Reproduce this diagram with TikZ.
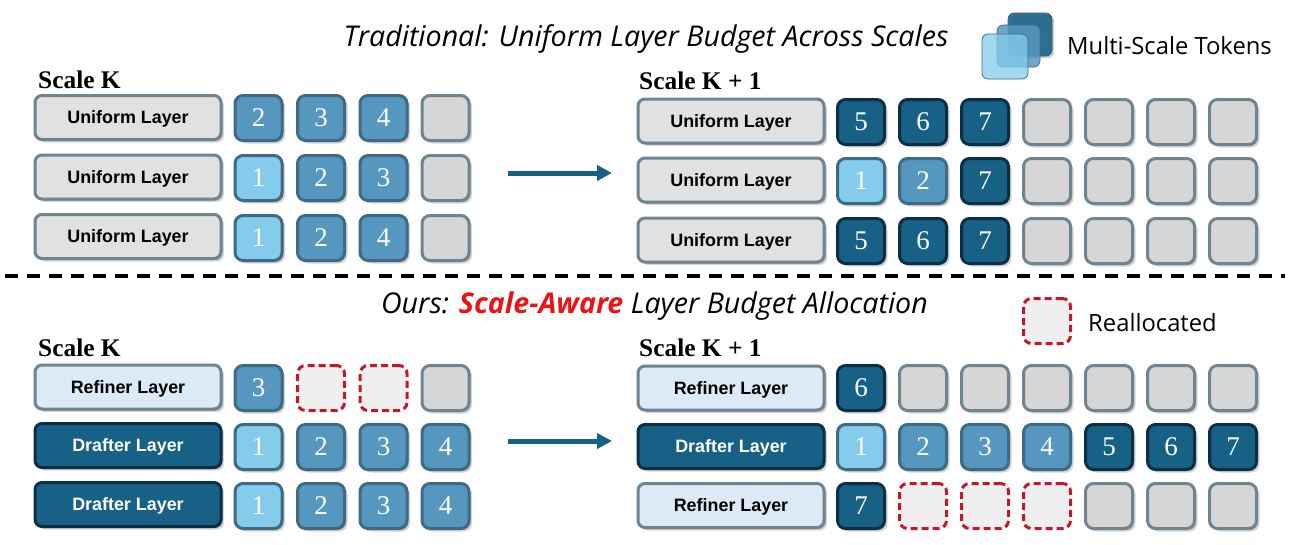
\documentclass[tikz,border=0pt]{standalone}
\usepackage{fontspec}
\setmainfont{Liberation Serif}
\setsansfont{Liberation Sans}
\newfontfamily\titlefont{Open Sans}
\usepackage{xcolor}
\usetikzlibrary{arrows.meta,shadows}
\definecolor{tokenlight}{RGB}{132,203,236}
\definecolor{tokenmid}{RGB}{85,151,190}
\definecolor{tokendark}{RGB}{23,97,135}
\definecolor{edgemid}{RGB}{63,106,133}
\definecolor{edgedark}{RGB}{11,47,69}
\definecolor{edgegrey}{RGB}{111,131,144}
\definecolor{idlegrey}{RGB}{214,214,214}
\definecolor{uniformgrey}{RGB}{225,225,225}
\definecolor{refinerblue}{RGB}{220,233,246}
\definecolor{freegrey}{RGB}{239,239,239}
\definecolor{realred}{RGB}{195,23,42}
\definecolor{awarered}{RGB}{235,20,20}
\tikzset{
  softshadow/.style={drop shadow={shadow xshift=3pt,shadow yshift=-3pt,opacity=.16,fill=black},
    drop shadow={shadow xshift=1.5pt,shadow yshift=-1.5pt,opacity=.22,fill=black}},
  tokenbase/.style={rectangle,rounded corners=8pt,line width=3pt,minimum width=47pt,minimum height=45pt,
    inner sep=0pt,text=white,font=\fontsize{27}{30}\selectfont},
  tokenA/.style={tokenbase,softshadow,draw=edgemid,fill=tokenlight},
  tokenB/.style={tokenbase,softshadow,draw=edgemid,fill=tokenmid},
  tokenC/.style={tokenbase,softshadow,draw=edgedark,fill=tokendark},
  tokenE/.style={tokenbase,softshadow,draw=edgegrey,fill=idlegrey},
  tokenF/.style={tokenbase,draw=realred,fill=freegrey,dash pattern=on 7pt off 4pt},
  layerbase/.style={rectangle,rounded corners=7pt,line width=3pt,minimum width=186pt,minimum height=44pt,
    inner sep=0pt,text height=12.9pt,text depth=0pt,softshadow,font=\sffamily\bfseries\fontsize{17.9}{20}\selectfont},
  layerU/.style={layerbase,draw=edgegrey,fill=uniformgrey,text=black},
  layerR/.style={layerbase,draw=edgegrey,fill=refinerblue,text=black},
  layerD/.style={layerbase,draw=edgedark,fill=tokendark,text=white},
  scalelabel/.style={anchor=west,inner sep=0pt,font=\rmfamily\bfseries\fontsize{25.4}{28}\selectfont},
  headline/.style={inner sep=0pt,font=\titlefont\itshape\fontsize{28.6}{32}\selectfont},
  legendtext/.style={anchor=west,inner sep=0pt,font=\titlefont\fontsize{23.8}{28}\selectfont},
  flowarrow/.style={-{Triangle[length=15pt,width=15pt]},line width=5pt,tokendark},
}
\begin{document}
\begin{tikzpicture}[x=1pt,y=-1pt]
    \useasboundingbox (0,0) rectangle (1292,544);
    % Titles
    \node[headline] (titletop) at (646,38.5) {Traditional: Uniform Layer Budget Across Scales};
    \node[headline] (titlebot) at (654.5,306.5) {Ours: {\bfseries\color{awarered}Scale-Aware} Layer Budget Allocation};
    % Legend stack
    \node[rectangle,rounded corners=6pt,draw=edgedark!80,line width=.6pt,fill=tokendark,fill opacity=.88,
      minimum width=44pt,minimum height=43pt,drop shadow={shadow xshift=2pt,shadow yshift=-2pt,opacity=.2,fill=black}] (stackback) at (1030,34.5) {};
    \node[rectangle,rounded corners=6pt,draw=edgemid,line width=.6pt,fill=tokenmid,fill opacity=.85,
      minimum width=43pt,minimum height=42pt] (stackmid) at (1018.5,46) {};
    \node[rectangle,rounded corners=6pt,draw=edgemid,line width=.8pt,fill=tokenlight,fill opacity=.75,
      minimum width=46pt,minimum height=45pt] (stackfront) at (1005,56.5) {};
    \node[legendtext] (stacktext) at (1067,46) {Multi-Scale Tokens};
    % Legend reallocated
    \node[tokenF] (legendfree) at (1047,321) {};
    \node[legendtext] (freetext) at (1088,323) {Reallocated};
    % Scale labels
    \node[scalelabel] (scaleA) at (38,80) {Scale K};
    \node[scalelabel] (scaleB) at (639,81) {Scale K + 1};
    \node[scalelabel] (scaleC) at (38,348) {Scale K};
    \node[scalelabel] (scaleD) at (639,348) {Scale K + 1};
    % Separator
    \coordinate (sepL) at (5,276);
    \coordinate (sepR) at (1285,276);
    \draw[line width=3.2pt,dash pattern=on 13pt off 9pt] (sepL) -- (sepR);
    % Layer boxes
    \foreach \yy/\kind/\lab/\nm in {117.5/U/Uniform/a,177/U/Uniform/b,236.5/U/Uniform/c,
                                    387/R/Refiner/g,445.5/D/Drafter/h,504.5/D/Drafter/i}
      \node[layer\kind] (layer\nm) at (128,\yy) {\lab{} Layer};
    \foreach \yy/\kind/\lab/\nm in {121/U/Uniform/d,180/U/Uniform/e,240/U/Uniform/f,
                                    388/R/Refiner/j,446.5/D/Drafter/k,505.5/R/Refiner/l}
      \node[layer\kind] (layer\nm) at (731,\yy) {\lab{} Layer};
    % Left token grids
    \foreach \col/\xx in {1/258.5,2/321,3/383.5,4/445.5}{
      \foreach \nm/\yy in {a/118,b/178,c/238,g/388,h/447,i/506}
        \coordinate (slot\nm\col) at (\xx,\yy);
    }
    % Right token grids
    \foreach \col/\xx in {1/861,2/923,3/985,4/1047,5/1109,6/1171,7/1233}{
      \foreach \nm/\yy in {d/122,e/181,f/241,j/388,k/447,l/506}
        \coordinate (slot\nm\col) at (\xx,\yy);
    }
    % Tokens: slot / style / number
    \foreach \slot/\kind/\lab in {a1/B/2,a2/B/3,a3/B/4,a4/E/,
                                  b1/A/1,b2/B/2,b3/B/3,b4/E/,
                                  c1/A/1,c2/B/2,c3/B/4,c4/E/,
                                  g1/B/3,g2/F/,g3/F/,g4/E/,
                                  h1/A/1,h2/B/2,h3/B/3,h4/B/4,
                                  i1/A/1,i2/B/2,i3/B/3,i4/B/4,
                                  d1/C/5,d2/C/6,d3/C/7,d4/E/,d5/E/,d6/E/,d7/E/,
                                  e1/A/1,e2/B/2,e3/C/7,e4/E/,e5/E/,e6/E/,e7/E/,
                                  f1/C/5,f2/C/6,f3/C/7,f4/E/,f5/E/,f6/E/,f7/E/,
                                  j1/C/6,j2/E/,j3/E/,j4/E/,j5/E/,j6/E/,j7/E/,
                                  k1/A/1,k2/B/2,k3/B/3,k4/B/4,k5/C/5,k6/C/6,k7/C/7,
                                  l1/C/7,l2/F/,l3/F/,l4/F/,l5/E/,l6/E/,l7/E/}
      \node[token\kind] (tok\slot) at (slot\slot) {\lab};
    % Flow arrows
    \coordinate (flowAs) at (508,173);
    \coordinate (flowAe) at (612,173);
    \coordinate (flowBs) at (508,441);
    \coordinate (flowBe) at (612,441);
    \draw[flowarrow] (flowAs) -- (flowAe);
    \draw[flowarrow] (flowBs) -- (flowBe);
\end{tikzpicture}
\end{document}
